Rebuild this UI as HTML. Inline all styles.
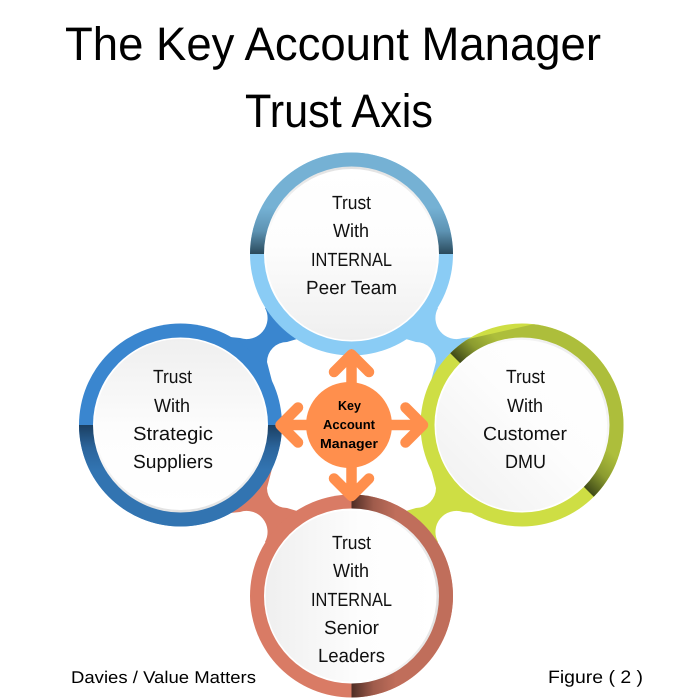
<!DOCTYPE html>
<html><head><meta charset="utf-8"><style>
html,body{margin:0;padding:0;background:#fff;width:679px;height:698px;overflow:hidden}
svg{display:block}
text{font-family:"Liberation Sans",sans-serif;fill:#000;text-anchor:start;text-rendering:geometricPrecision}
.t{font-size:19px;fill:#111}
.c{font-size:13px;font-weight:bold;fill:#000}
</style></head><body>
<svg width="679" height="698" viewBox="0 0 679 698" xmlns="http://www.w3.org/2000/svg">
<defs>
<linearGradient id="gTop" gradientUnits="userSpaceOnUse" x1="0" y1="254" x2="0" y2="208"><stop offset="0" stop-color="#2a4a5c"/><stop offset=".5" stop-color="#5d93b3"/><stop offset="1" stop-color="#75b1d4"/></linearGradient>
<linearGradient id="gLeft" gradientUnits="userSpaceOnUse" x1="0" y1="425" x2="0" y2="470"><stop offset="0" stop-color="#1b3f62"/><stop offset=".5" stop-color="#2b649b"/><stop offset="1" stop-color="#3274b1"/></linearGradient>
<linearGradient id="gRight" gradientUnits="userSpaceOnUse" x1="522" y1="425" x2="553" y2="394"><stop offset="0" stop-color="#3f4a18"/><stop offset=".5" stop-color="#8c9c30"/><stop offset="1" stop-color="#adbe3b"/></linearGradient>
<linearGradient id="gBot" gradientUnits="userSpaceOnUse" x1="351.5" y1="0" x2="396" y2="0"><stop offset="0" stop-color="#4e2d25"/><stop offset=".5" stop-color="#a05c4c"/><stop offset="1" stop-color="#c06e5b"/></linearGradient>

<linearGradient id="fV" x1="0" y1="0" x2="0" y2="1"><stop offset="0" stop-color="#fff"/><stop offset=".45" stop-color="#fdfdfd"/><stop offset="1" stop-color="#efefef"/></linearGradient>
<linearGradient id="fVr" x1="0" y1="1" x2="0" y2="0"><stop offset="0" stop-color="#fff"/><stop offset=".45" stop-color="#fdfdfd"/><stop offset="1" stop-color="#efefef"/></linearGradient>
<linearGradient id="fD" x1="1" y1="0" x2="0" y2="1"><stop offset="0" stop-color="#fff"/><stop offset=".45" stop-color="#fdfdfd"/><stop offset="1" stop-color="#efefef"/></linearGradient>
<linearGradient id="fH" x1="1" y1="0" x2="0" y2="0"><stop offset="0" stop-color="#fff"/><stop offset=".45" stop-color="#fdfdfd"/><stop offset="1" stop-color="#efefef"/></linearGradient>

<linearGradient id="rV" x1="0" y1="0" x2="0" y2="1"><stop offset="0" stop-color="#e2e2e2"/><stop offset=".4" stop-color="#fff"/><stop offset="1" stop-color="#fff"/></linearGradient>
<linearGradient id="rVr" x1="0" y1="1" x2="0" y2="0"><stop offset="0" stop-color="#e2e2e2"/><stop offset=".4" stop-color="#fff"/><stop offset="1" stop-color="#fff"/></linearGradient>
<linearGradient id="rD" x1="1" y1="0" x2="0" y2="1"><stop offset="0" stop-color="#e2e2e2"/><stop offset=".4" stop-color="#fff"/><stop offset="1" stop-color="#fff"/></linearGradient>
<linearGradient id="rH" x1="1" y1="0" x2="0" y2="0"><stop offset="0" stop-color="#e2e2e2"/><stop offset=".4" stop-color="#fff"/><stop offset="1" stop-color="#fff"/></linearGradient>

<clipPath id="cTop"><rect x="240" y="140" width="224" height="114"/></clipPath>
<clipPath id="cLeft"><rect x="70" y="425" width="224" height="114"/></clipPath>
<clipPath id="cRight"><polygon points="442,345 640,300 640,555 602,505"/></clipPath>
<clipPath id="cBot"><rect x="351.5" y="485" width="114" height="224"/></clipPath>
</defs>

<rect width="679" height="698" fill="#fff"/>

<!-- Title -->
<text x="65" y="60" font-size="47" textLength="536" lengthAdjust="spacingAndGlyphs">The Key Account Manager</text>
<text x="245" y="127" font-size="47" textLength="188" lengthAdjust="spacingAndGlyphs">Trust Axis</text>

<!-- Connectors -->
<path d="M265 308A21 21 0 0 1 240 338L230 337L181 425L351.5 425L351.5 254Z" fill="#3a86cf"/>
<path d="M438 308A21 21 0 0 0 463 338L473 337L522 425L351.5 425L351.5 254Z" fill="#8accf5"/>
<path d="M265 542A21 21 0 0 0 240 512L230 513L181 425L351.5 425L351.5 596Z" fill="#d97b65"/>
<path d="M438 542A21 21 0 0 1 463 512L473 513L522 425L351.5 425L351.5 596Z" fill="#cede44"/>

<!-- White centre -->
<path d="M297 339L287 342A20 20 0 0 0 267 362L273 385L273 465L267 488A20 20 0 0 0 287 508L297 511L406 511L416 508A20 20 0 0 0 436 488L430 465L430 385L436 362A20 20 0 0 0 416 342L406 339Z" fill="#fff"/>

<!-- Rings -->
<circle cx="351.5" cy="254" r="101.5" fill="#8accf5"/>
<circle cx="351.5" cy="254" r="101.5" fill="url(#gTop)" clip-path="url(#cTop)"/>
<circle cx="180.5" cy="425" r="101.5" fill="#3a86cf"/>
<circle cx="180.5" cy="425" r="101.5" fill="url(#gLeft)" clip-path="url(#cLeft)"/>
<circle cx="522" cy="425" r="101.5" fill="#cede44"/>
<circle cx="522" cy="425" r="101.5" fill="url(#gRight)" clip-path="url(#cRight)"/>
<circle cx="351.5" cy="596" r="101.5" fill="#d97b65"/>
<circle cx="351.5" cy="596" r="101.5" fill="url(#gBot)" clip-path="url(#cBot)"/>

<!-- Inner discs -->
<circle cx="351.5" cy="254" r="87.5" fill="url(#rV)"/><circle cx="351.5" cy="254.5" r="85.5" fill="url(#fV)"/>
<circle cx="180.5" cy="425" r="87.5" fill="url(#rVr)"/><circle cx="180.5" cy="424.5" r="85.5" fill="url(#fVr)"/>
<circle cx="522" cy="425" r="87.5" fill="url(#rD)"/><circle cx="521.6" cy="425.4" r="85.5" fill="url(#fD)"/>
<circle cx="351.5" cy="596" r="87.5" fill="url(#rH)"/><circle cx="351" cy="596" r="85.5" fill="url(#fH)"/>

<!-- Arrows -->
<g fill="none" stroke="#ff8f4d" stroke-width="10.5" stroke-linecap="round" stroke-linejoin="round">
<path d="M351.5 400V354.5M334 372L351.5 354.5L369 372"/>
<path d="M351.5 450V496M334 478.5L351.5 496L369 478.5"/>
<path d="M330 425H280.5M298 407.5L280.5 425L298 442.5"/>
<path d="M370 425H423M405.5 407.5L423 425L405.5 442.5"/>
</g>
<circle cx="349" cy="425" r="43" fill="#ff8f4d"/>

<!-- Centre text -->
<text class="c" x="338" y="410" textLength="23" lengthAdjust="spacingAndGlyphs">Key</text>
<text class="c" x="323" y="429" textLength="52" lengthAdjust="spacingAndGlyphs">Account</text>
<text class="c" x="320" y="448" textLength="58" lengthAdjust="spacingAndGlyphs">Manager</text>

<!-- Top labels -->
<text class="t" x="332" y="209" textLength="39" lengthAdjust="spacingAndGlyphs">Trust</text>
<text class="t" x="333" y="237" textLength="36" lengthAdjust="spacingAndGlyphs">With</text>
<text class="t" x="311" y="266" textLength="81" lengthAdjust="spacingAndGlyphs">INTERNAL</text>
<text class="t" x="306" y="294" textLength="91" lengthAdjust="spacingAndGlyphs">Peer Team</text>

<!-- Left labels -->
<text class="t" x="153" y="383" textLength="39" lengthAdjust="spacingAndGlyphs">Trust</text>
<text class="t" x="154" y="412" textLength="36" lengthAdjust="spacingAndGlyphs">With</text>
<text class="t" x="133" y="440" textLength="80" lengthAdjust="spacingAndGlyphs">Strategic</text>
<text class="t" x="133" y="468" textLength="80" lengthAdjust="spacingAndGlyphs">Suppliers</text>

<!-- Right labels -->
<text class="t" x="506" y="383" textLength="39" lengthAdjust="spacingAndGlyphs">Trust</text>
<text class="t" x="507" y="412" textLength="36" lengthAdjust="spacingAndGlyphs">With</text>
<text class="t" x="483" y="440" textLength="84" lengthAdjust="spacingAndGlyphs">Customer</text>
<text class="t" x="505" y="468" textLength="41" lengthAdjust="spacingAndGlyphs">DMU</text>

<!-- Bottom labels -->
<text class="t" x="332" y="549" textLength="39" lengthAdjust="spacingAndGlyphs">Trust</text>
<text class="t" x="333" y="577" textLength="36" lengthAdjust="spacingAndGlyphs">With</text>
<text class="t" x="311" y="606" textLength="81" lengthAdjust="spacingAndGlyphs">INTERNAL</text>
<text class="t" x="324" y="634" textLength="55" lengthAdjust="spacingAndGlyphs">Senior</text>
<text class="t" x="318" y="662" textLength="67" lengthAdjust="spacingAndGlyphs">Leaders</text>

<!-- Footer -->
<text x="71" y="683" font-size="17" textLength="185" lengthAdjust="spacingAndGlyphs">Davies / Value Matters</text>
<text x="548" y="683" font-size="18" textLength="95" lengthAdjust="spacingAndGlyphs">Figure ( 2 )</text>
</svg>
</body></html>
